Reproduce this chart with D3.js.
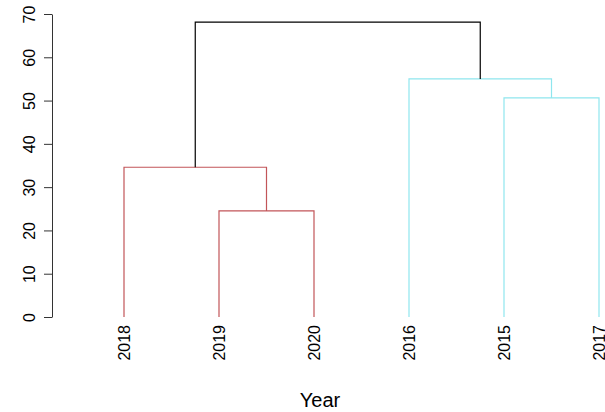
<!DOCTYPE html>
<html>
<head>
<meta charset="utf-8">
<script src="https://cdn.jsdelivr.net/npm/d3@7"></script>
<style>
  html, body { margin: 0; padding: 0; background: #fff; }
  svg { display: block; }
  text { font-family: "Liberation Sans", Arial, sans-serif; fill: #000; }
</style>
</head>
<body>
<svg id="chart" width="605" height="412"></svg>
<script>
// Leaf order as drawn (left to right)
const leaves = ["2018", "2019", "2020", "2016", "2015", "2017"];
// Merge steps (hclust style): negative = leaf index (1-based into leaves), positive = earlier merge step
const mergeLeft   = [-2, -1, -5, -4, 2];
const mergeRight  = [-3,  1, -6,  3, 4];
const mergeHeight = [24.5, 34.6, 50.6, 55.0, 68.1];
// Cluster colour of each merge (root is black)
const mergeColor  = ["#c25559", "#c25559", "#8fe6ee", "#8fe6ee", "#000000"];
const yTicks = [0, 10, 20, 30, 40, 50, 60, 70];
const xTitle = "Year";

const svg = d3.select("#chart");

const x = d3.scalePoint().domain(leaves).range([124, 599]);
const y = d3.scaleLinear().domain([0, 70]).range([317, 14]);

// Y axis
const yAxis = d3.axisLeft(y).tickValues(yTicks).tickSize(8).tickSizeOuter(0);
const gy = svg.append("g").attr("transform", "translate(52,0)").call(yAxis);
gy.select(".domain").attr("stroke", "#333").attr("stroke-width", 1);
gy.selectAll(".tick line").attr("stroke", "#333");
gy.selectAll(".tick text")
  .attr("transform", "rotate(-90)")
  .attr("x", 0)
  .attr("y", -17)
  .attr("dy", 0)
  .attr("text-anchor", "middle")
  .style("font-size", "16px")
  .style("font-family", "'Liberation Sans', Arial, sans-serif")
  .attr("fill", "#222");

// Compute node positions
function nodeX(ref) {
  return ref < 0 ? x(leaves[-ref - 1]) : mergeX[ref - 1];
}
function nodeH(ref) {
  return ref < 0 ? 0 : mergeHeight[ref - 1];
}
const mergeX = [];
mergeLeft.forEach((l, i) => {
  mergeX.push((nodeX(l) + nodeX(mergeRight[i])) / 2);
});

const g = svg.append("g").attr("fill", "none").attr("stroke-width", 1.2);
mergeLeft.forEach((l, i) => {
  const r = mergeRight[i];
  const h = mergeHeight[i];
  const col = mergeColor[i];
  const path = d3.path();
  path.moveTo(nodeX(l), y(nodeH(l)));
  path.lineTo(nodeX(l), y(h));
  path.lineTo(nodeX(r), y(h));
  path.lineTo(nodeX(r), y(nodeH(r)));
  g.append("path").attr("d", path.toString()).attr("stroke", col);
});

// Leaf labels
svg.append("g").selectAll("text").data(leaves).join("text")
  .attr("transform", d => `translate(${x(d) + 6},325) rotate(-90)`)
  .attr("text-anchor", "end")
  .style("font-size", "16px")
  .attr("fill", "#222")
  .text(d => d);

// Axis title
svg.append("text")
  .attr("x", 320)
  .attr("y", 407)
  .attr("text-anchor", "middle")
  .style("font-size", "20px")
  .text(xTitle);
</script>
</body>
</html>
